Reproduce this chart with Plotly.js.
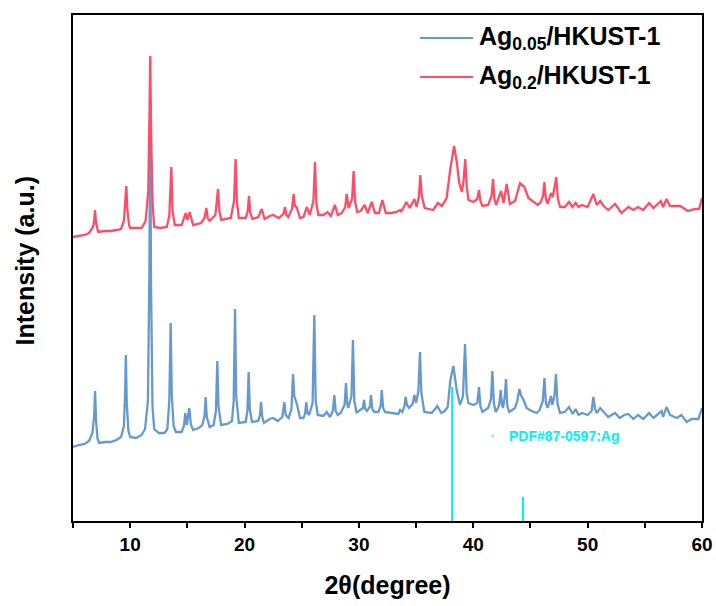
<!DOCTYPE html>
<html>
<head>
<meta charset="utf-8">
<script src="https://cdn.plot.ly/plotly-3.0.1.min.js"></script>
<style>
  html, body { margin: 0; padding: 0; background: #fff; }
  #chart { width: 716px; height: 606px; }
</style>
</head>
<body>
<div id="chart"></div>
<script>
// XRD patterns of Ag-loaded HKUST-1 (intensity in arbitrary units, offset per sample)
const twoTheta005 = [5.0,5.5,6.0,6.4,6.7,6.85,6.93,7.02,7.15,7.3,7.8,8.3,8.8,9.2,9.45,9.55,9.62,9.7,9.85,10.0,10.5,11.0,11.3,11.55,11.68,11.75,11.82,11.95,12.1,12.5,13.0,13.25,13.42,13.54,13.64,13.8,14.0,14.5,14.7,14.82,14.95,15.17,15.3,15.5,16.0,16.3,16.5,16.6,16.7,16.95,17.3,17.5,17.62,17.72,17.95,18.5,18.9,19.05,19.17,19.27,19.5,20.1,20.25,20.36,20.46,20.65,21.2,21.35,21.44,21.55,21.7,22.2,22.5,22.9,23.3,23.48,23.6,23.85,24.1,24.24,24.35,24.47,24.6,24.85,25.15,25.3,25.4,25.5,25.64,25.95,26.1,26.22,26.4,26.9,27.18,27.47,27.72,27.85,27.97,28.15,28.4,28.75,28.87,28.97,29.07,29.35,29.48,29.6,29.8,30.1,30.35,30.45,30.55,30.7,30.95,31.06,31.17,31.35,31.7,31.9,32.0,32.12,32.28,32.87,33.45,33.6,33.8,33.98,34.09,34.2,34.38,34.7,34.85,35.0,35.2,35.34,35.46,35.72,36.37,36.86,37.2,37.5,37.76,38.0,38.26,38.55,38.84,39.1,39.28,39.42,39.57,40.0,40.35,40.5,40.62,40.8,41.3,41.55,41.67,41.8,41.96,42.25,42.4,42.5,42.6,42.76,42.86,42.98,43.15,43.65,43.85,44.03,44.2,44.37,44.66,45.1,45.55,45.8,46.08,46.22,46.35,46.5,46.8,46.9,47.1,47.23,47.36,47.58,48.0,48.37,48.7,48.95,49.2,49.5,50.0,50.35,50.5,50.65,50.8,51.1,51.4,51.8,52.4,52.8,53.2,53.56,54.0,54.4,54.86,55.37,55.75,56.1,56.48,56.6,56.9,57.2,57.8,58.2,58.66,59.1,59.68,60.0];
const intensity005 = [74,76,77,80,88,105,130,100,82,78,79,79,81,84,95,125,166,118,90,84,83,86,92,120,250,421,240,115,92,88,88,92,120,198,125,95,89,89,95,108,96,113,97,91,93,96,105,124,104,94,96,110,160,115,96,97,100,120,212,125,98,99,110,149,112,99,100,106,119,104,98,102,103,100,104,119,106,103,112,147,125,121,116,103,103,108,119,108,106,118,206,120,106,105,109,104,110,126,110,106,108,116,138,118,113,125,181,120,108,111,113,121,112,110,114,126,112,109,109,115,131,113,109,108,107,111,109,115,124,116,113,117,126,118,130,169,128,109,108,115,108,110,114,141,155,131,116,125,177,128,118,116,118,134,115,109,113,122,150,118,109,115,131,117,113,125,142,115,109,113,120,132,125,122,113,110,108,111,120,143,118,113,125,116,125,147,118,108,109,114,107,112,106,108,106,110,124,112,108,113,109,104,108,103,106,107,102,106,102,108,103,106,110,104,114,106,103,106,99,102,102,113];

const twoTheta02 = [5.0,5.5,6.0,6.4,6.75,6.85,6.92,7.02,7.2,7.8,8.3,8.8,9.2,9.45,9.57,9.66,9.75,9.9,10.0,10.5,11.0,11.35,11.58,11.68,11.75,11.83,11.95,12.1,12.6,13.2,13.42,13.6,13.7,13.9,14.5,14.85,15.0,15.2,15.5,16.2,16.5,16.66,16.78,16.95,17.45,17.68,17.8,17.97,18.8,19.08,19.22,19.33,19.5,20.1,20.28,20.39,20.5,20.7,21.2,21.5,21.75,22.2,22.5,23.0,23.4,23.54,23.65,23.83,24.15,24.29,24.4,24.55,24.85,25.15,25.46,25.7,26.02,26.16,26.28,26.45,26.9,27.25,27.55,27.9,28.15,28.5,28.8,28.93,29.1,29.4,29.54,29.66,29.85,30.15,30.5,30.77,31.12,31.4,31.75,32.05,32.35,32.85,33.3,33.6,33.7,34.15,34.45,34.85,35.05,35.25,35.37,35.5,35.75,36.5,36.9,37.25,37.67,37.98,38.32,38.57,38.77,39.0,39.15,39.3,39.42,39.58,40.0,40.35,40.5,40.62,40.8,41.3,41.6,41.73,41.85,42.0,42.43,42.65,42.92,43.2,43.65,44.09,44.47,44.82,45.26,45.64,45.9,46.1,46.22,46.35,46.5,46.8,46.95,47.26,47.4,47.6,48.0,48.37,48.67,48.95,49.2,49.5,50.0,50.5,50.8,51.1,51.4,51.8,52.4,52.96,53.56,54.0,54.4,54.86,55.37,55.75,56.4,56.6,56.9,57.2,58.1,58.75,59.4,59.75,60.0];
const intensity02 = [284,285,286,288,294,300,311,298,289,290,290,291,292,300,318,335,312,296,293,293,293,300,330,400,465,390,320,294,293,294,305,354,310,296,296,308,301,309,296,298,303,313,303,300,306,332,310,301,303,320,362,320,303,303,310,325,308,302,304,312,302,305,306,303,307,314,306,304,312,327,315,314,303,304,314,306,320,359,318,306,306,309,305,316,306,308,314,327,313,322,350,320,309,310,316,308,319,308,308,321,308,308,309,311,309,319,313,322,314,325,346,325,313,311,318,315,323,351,375,358,338,329,340,362,335,321,319,322,331,320,315,316,325,342,322,316,330,318,337,317,320,338,334,323,319,316,319,325,339,322,317,328,324,344,322,314,314,319,314,318,314,316,314,327,316,320,315,311,317,308,314,311,314,311,318,313,320,314,322,315,315,310,312,312,323];

// Ag reference pattern (PDF#87-0597) stick positions and relative heights
const agRefPos = [38.15, 44.35];
const agRefInt = [134, 24];

const seriesNames = ['Ag<sub>0.05</sub>/HKUST-1', 'Ag<sub>0.2</sub>/HKUST-1'];
const refLabel = 'PDF#87-0597:Ag';
const xTickVals = [10, 20, 30, 40, 50, 60];

const BLUE = 'rgb(102,153,206)';
const RED = 'rgb(255,77,104)';
const CYAN = 'rgb(0,240,250)';
const FONT = 'Liberation Sans, Arial, sans-serif';

// stick lines for the reference pattern
const stickX = [], stickY = [];
agRefPos.forEach((p, i) => { stickX.push(p, p, null); stickY.push(0, agRefInt[i], null); });

const traces = [
  { x: twoTheta005, y: intensity005, type: 'scatter', mode: 'lines', name: seriesNames[0],
    line: { color: BLUE, width: 2.3 }, showlegend: false, hoverinfo: 'skip' },
  { x: twoTheta02, y: intensity02, type: 'scatter', mode: 'lines', name: seriesNames[1],
    line: { color: RED, width: 2.3 }, showlegend: false, hoverinfo: 'skip' },
  { x: stickX, y: stickY, type: 'scatter', mode: 'lines', name: refLabel,
    line: { color: CYAN, width: 2 }, showlegend: false, hoverinfo: 'skip' }
];

// Hand-placed legend block (long sample lines) in paper coordinates
const legendRows = [
  { y: 0.9545, color: BLUE, text: seriesNames[0] },
  { y: 0.8775, color: RED, text: seriesNames[1] }
];
const shapes = legendRows.map(r => ({
  type: 'line', xref: 'paper', yref: 'paper', x0: 0.5517, x1: 0.6359, y0: r.y, y1: r.y,
  line: { color: r.color, width: 2 }
}));
// tiny marker in front of the reference label
shapes.push({ type: 'line', xref: 'x', yref: 'y', x0: 41.62, x1: 41.78, y0: 85, y1: 85,
  line: { color: CYAN, width: 1.5 } });

const annotations = legendRows.map(r => ({
  xref: 'paper', yref: 'paper', x: 0.643, y: r.y, xanchor: 'left', yanchor: 'middle',
  text: r.text, showarrow: false,
  font: { family: FONT, size: 25, color: '#000', weight: 'bold' }
}));
annotations.push({
  xref: 'x', yref: 'y', x: 48.0, y: 85, xanchor: 'center', yanchor: 'middle',
  text: refLabel, showarrow: false,
  font: { family: FONT, size: 14, color: CYAN, weight: 'bold' }
});
annotations.push({
  xref: 'paper', yref: 'paper', x: -0.077, y: 0.514, xanchor: 'center', yanchor: 'middle',
  text: 'Intensity (a.u.)', textangle: -90, showarrow: false,
  font: { family: FONT, size: 25, color: '#000', weight: 'bold' }
});

const layout = {
  width: 716, height: 606,
  margin: { l: 73, r: 14, t: 15, b: 85 },
  paper_bgcolor: '#fff', plot_bgcolor: '#fff',
  showlegend: false,
  xaxis: {
    range: [5, 60], tickvals: xTickVals, ticks: 'outside', ticklen: 5, tickwidth: 2,
    tickcolor: '#000', showgrid: false, zeroline: false,
    showline: true, linecolor: '#000', linewidth: 2, mirror: true,
    tickfont: { family: FONT, size: 19, color: '#000', weight: 'bold' },
    minor: { tickvals: [5, 15, 25, 35, 45, 55], ticks: 'outside', ticklen: 5, tickwidth: 2, tickcolor: '#000', showgrid: false },
    title: { text: '2θ(degree)', standoff: 23, font: { family: FONT, size: 25, color: '#000', weight: 'bold' } }
  },
  yaxis: {
    range: [0, 506], showticklabels: false, ticks: '', showgrid: false, zeroline: false,
    showline: true, linecolor: '#000', linewidth: 2, mirror: true
  },
  shapes: shapes,
  annotations: annotations
};

Plotly.newPlot('chart', traces, layout, { displayModeBar: false, staticPlot: true });
</script>
</body>
</html>
